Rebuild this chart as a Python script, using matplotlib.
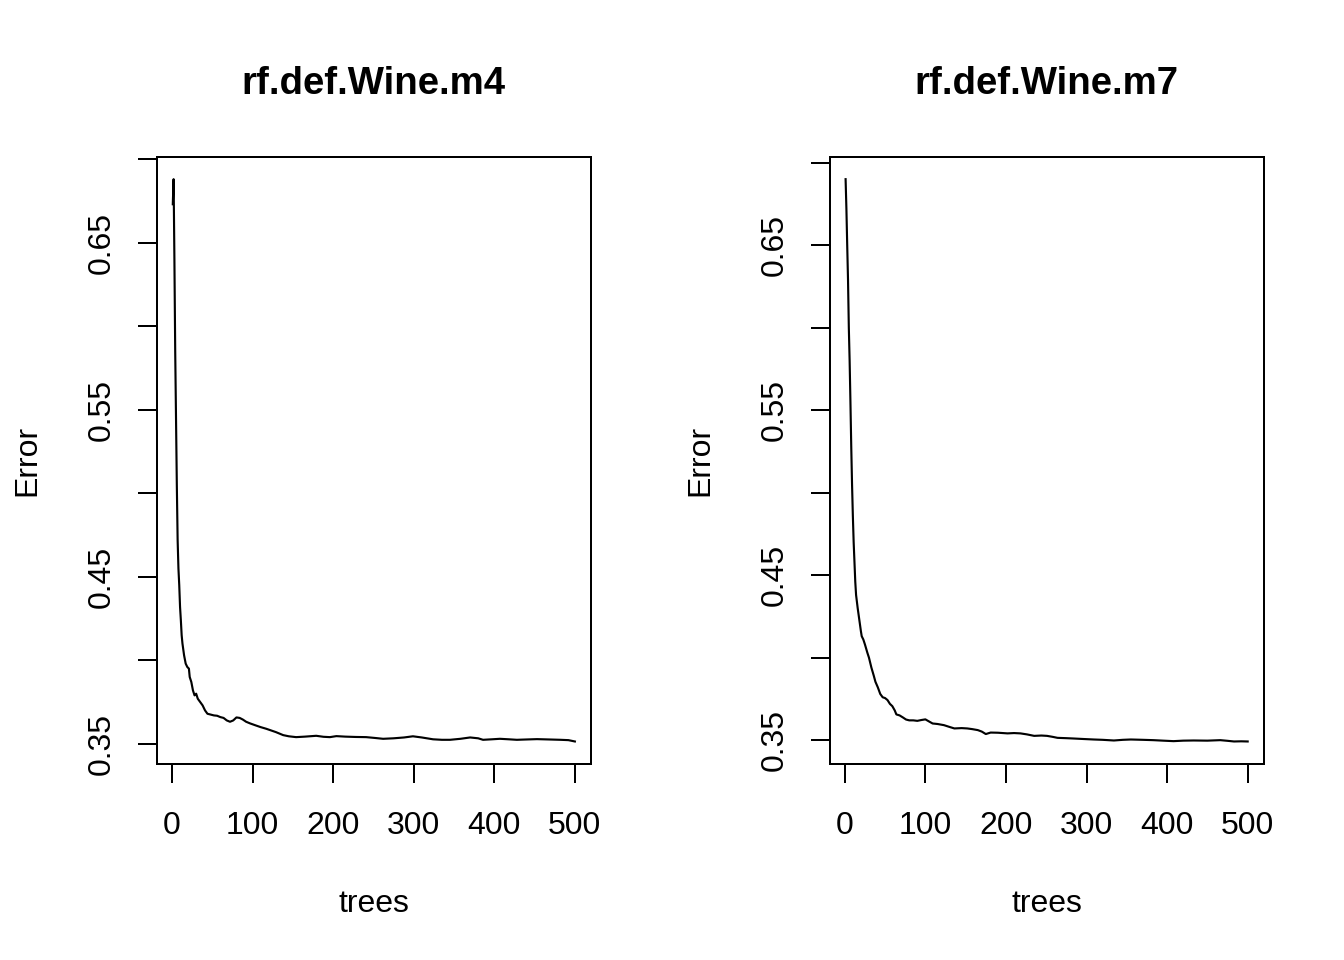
import numpy as np
import matplotlib
matplotlib.use('Agg')
import matplotlib.pyplot as plt

plt.rcParams['font.family'] = ['Liberation Sans', 'DejaVu Sans']

# OOB error by number of trees
trees_m4 = [1, 2, 3, 4, 5, 6, 7, 8, 9, 10, 11, 12, 13, 15, 17, 19, 21, 22, 24, 26,
            28, 30, 32, 35, 38, 41, 44, 48, 52, 56, 60, 64, 68, 72, 76, 80, 84, 88,
            92, 97, 104, 110, 117, 123, 129, 134, 138, 145, 154, 165, 179, 188, 196,
            204, 215, 228, 241, 252, 262, 275, 288, 299, 310, 324, 335, 345, 358,
            370, 380, 386, 397, 407, 418, 428, 440, 453, 468, 482, 492, 500]
err_m4 = [0.673, 0.688, 0.640, 0.585, 0.545, 0.505, 0.472, 0.455, 0.445, 0.432,
          0.424, 0.415, 0.410, 0.403, 0.398, 0.396, 0.395, 0.390, 0.387, 0.382,
          0.379, 0.380, 0.377, 0.375, 0.373, 0.370, 0.368, 0.3675, 0.367, 0.3668,
          0.366, 0.3655, 0.364, 0.3632, 0.364, 0.3658, 0.3655, 0.3645, 0.3632,
          0.3622, 0.3610, 0.3600, 0.3590, 0.3580, 0.3570, 0.3560, 0.3552, 0.3545,
          0.3540, 0.3543, 0.3548, 0.3542, 0.3540, 0.3546, 0.3543, 0.3541, 0.3540,
          0.3535, 0.3530, 0.3533, 0.3538, 0.3545, 0.3538, 0.3527, 0.3524, 0.3524,
          0.3530, 0.3538, 0.3533, 0.3524, 0.3527, 0.3530, 0.3527, 0.3524, 0.3526,
          0.3528, 0.3526, 0.3524, 0.3522, 0.3514]

trees_m7 = [1, 2, 3, 4, 5, 6, 7, 8, 9, 10, 11, 12, 13, 14, 16, 18, 20, 21, 23, 25,
            28, 30, 33, 36, 38, 41, 44, 47, 50, 53, 56, 59, 62, 64, 68, 72, 76, 80,
            85, 90, 95, 100, 105, 109, 115, 123, 130, 136, 145, 152, 158, 165, 170,
            175, 181, 190, 202, 210, 218, 226, 235, 244, 251, 258, 264, 275, 284,
            296, 309, 320, 334, 345, 355, 370, 383, 395, 408, 420, 433, 450, 466,
            475, 483, 492, 500]
err_m7 = [0.690, 0.672, 0.650, 0.629, 0.600, 0.580, 0.555, 0.528, 0.505, 0.486,
          0.470, 0.458, 0.446, 0.438, 0.430, 0.423, 0.416, 0.413, 0.411, 0.408,
          0.403, 0.400, 0.394, 0.389, 0.3854, 0.382, 0.378, 0.376, 0.3755, 0.3743,
          0.372, 0.3706, 0.368, 0.3656, 0.3650, 0.3638, 0.3625, 0.3620, 0.3620,
          0.3617, 0.3622, 0.3626, 0.3612, 0.3601, 0.3598, 0.3591, 0.3580, 0.3571,
          0.3573, 0.3571, 0.3567, 0.3561, 0.3552, 0.3537, 0.3546, 0.3545, 0.3541,
          0.3543, 0.3541, 0.3535, 0.3526, 0.3528, 0.3526, 0.3520, 0.3514, 0.3512,
          0.3510, 0.3507, 0.3504, 0.3502, 0.3498, 0.3502, 0.3504, 0.3502, 0.3500,
          0.3497, 0.3494, 0.3497, 0.3498, 0.3497, 0.3500, 0.3496, 0.3492, 0.3493,
          0.3492]

x_ticks = [0, 100, 200, 300, 400, 500]
y_ticks = [0.35, 0.40, 0.45, 0.50, 0.55, 0.60, 0.65, 0.70]
y_labels = ['0.35', '', '0.45', '', '0.55', '', '0.65', '']
titles = ['rf.def.Wine.m4', 'rf.def.Wine.m7']

fig = plt.figure(figsize=(7, 5), dpi=192)
# R default margins for mfrow=c(1,2)
ax1 = fig.add_axes([0.1166, 0.2042, 0.3231, 0.6326])
ax2 = fig.add_axes([0.6172, 0.2042, 0.3231, 0.6326])

for ax, t, e, title in [(ax1, trees_m4, err_m4, titles[0]),
                        (ax2, trees_m7, err_m7, titles[1])]:
    ax.plot(t, e, color='black', lw=0.8)
    # R style 4% padding
    xr = max(t) - min(t)
    ax.set_xlim(min(t) - 0.04 * xr, max(t) + 0.04 * xr)
    yr = max(e) - min(e)
    ax.set_ylim(min(e) - 0.04 * yr, max(e) + 0.04 * yr)
    ax.set_xticks(x_ticks)
    ax.set_yticks(y_ticks)
    ax.set_yticklabels(y_labels, rotation=90, va='center')
    ax.tick_params(axis='both', direction='out', length=7.2, width=0.75,
                   labelsize=12, colors='black')
    ax.tick_params(axis='x', pad=10.5)
    ax.tick_params(axis='y', pad=7.8)
    for sp in ax.spines.values():
        sp.set_linewidth(0.75)
        sp.set_color('black')
    ax.set_title(title, fontsize=14.4, fontweight='bold', y=1.1033,
                 va='baseline', pad=0)
    ax.text(0.5, -0.2437, 'trees', transform=ax.transAxes, fontsize=12,
            ha='center', va='baseline')
    ax.text(-0.2625, 0.5, 'Error', transform=ax.transAxes, fontsize=12,
            rotation=90, ha='right', va='center')

fig.savefig('out.png', dpi=192, facecolor='white')
